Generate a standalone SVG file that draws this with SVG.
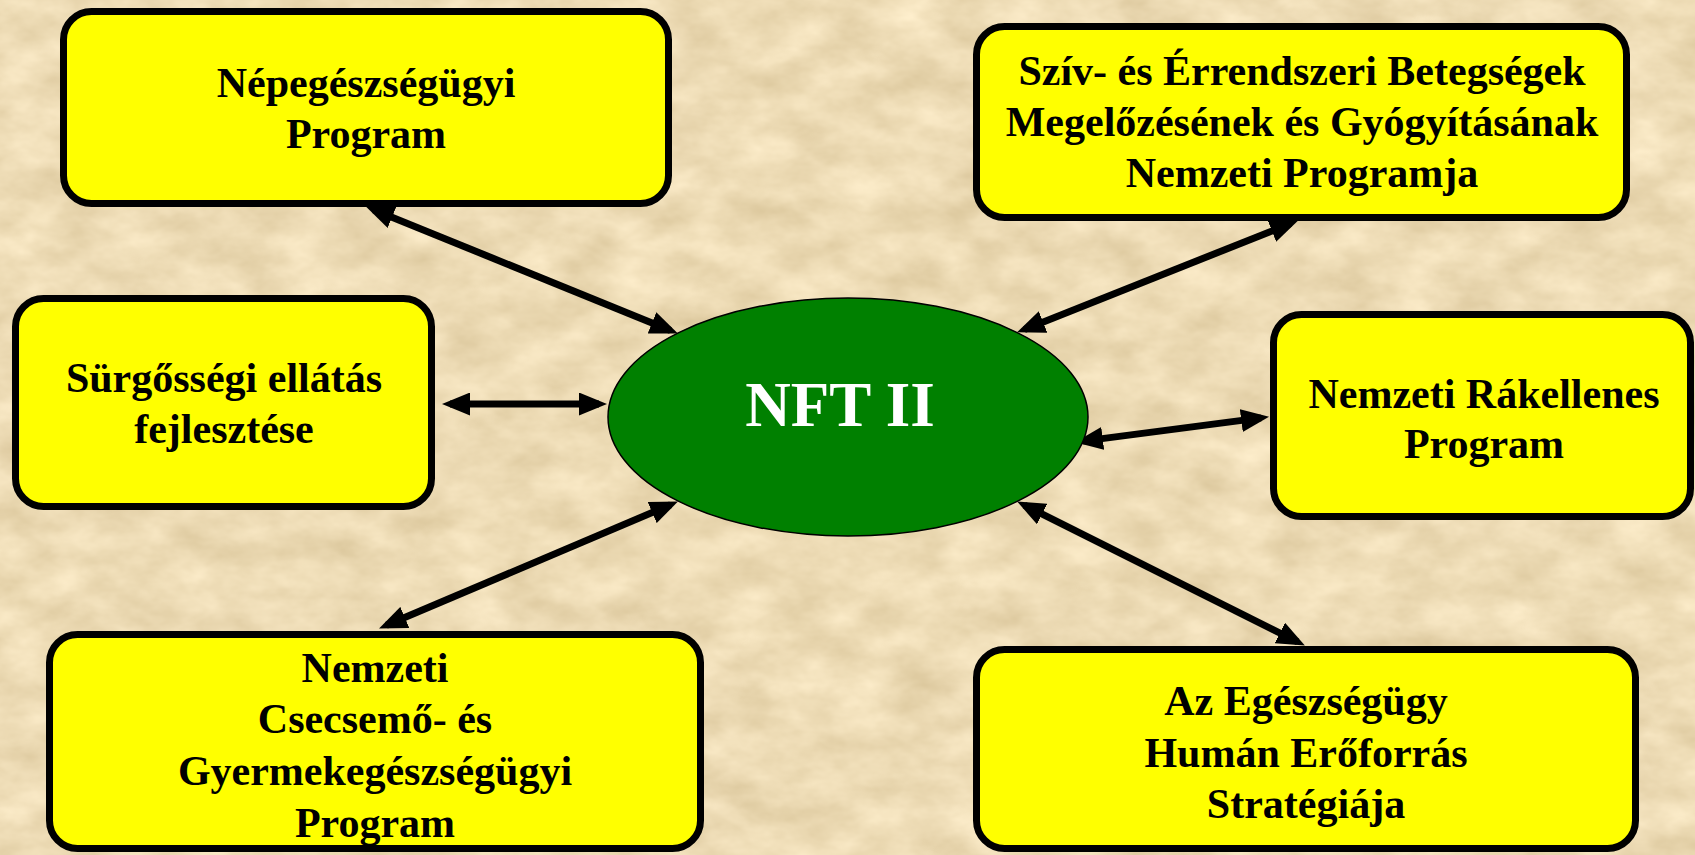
<svg xmlns="http://www.w3.org/2000/svg" width="1695" height="855" viewBox="0 0 1695 855">
  <style>
    .box { fill: #FFFF00; stroke: #000; stroke-width: 7; }
    .lbl { font-family: "Liberation Serif", "Times New Roman", serif; font-weight: bold; font-size: 42px; fill: #000; text-anchor: middle; }
    .center { font-family: "Liberation Serif", "Times New Roman", serif; font-weight: bold; font-size: 63px; fill: #FFF; text-anchor: middle; }
    .conn { stroke: #000; stroke-width: 7; fill: none; marker-start: url(#ah); marker-end: url(#ah); }
  </style>
  <defs>
    <filter id="paper" x="0" y="0" width="100%" height="100%" color-interpolation-filters="sRGB">
      <feTurbulence type="fractalNoise" baseFrequency="0.018 0.03" numOctaves="4" seed="7" result="n"/>
      <feColorMatrix in="n" type="matrix" values="0.16 0 0 0 0.85  0.18 0 0 0 0.77  0.22 0 0 0 0.60  0 0 0 0 1"/>
    </filter>
    <marker id="ah" markerUnits="userSpaceOnUse" markerWidth="28" markerHeight="23" refX="20" refY="11.5" orient="auto-start-reverse" viewBox="0 0 28 23">
      <path d="M0,0 L28,11.5 L0,23 z" fill="#000"/>
    </marker>
  </defs>

  <rect width="1695" height="855" fill="#ECDAB4"/>
  <rect width="1695" height="855" filter="url(#paper)"/>

  <g id="connectors">
    <path class="conn" d="M373.5,209.7 L670.5,330.4"/>
    <path class="conn" d="M1290.5,223.6 L1024.5,329.4"/>
    <path class="conn" d="M450,404 L599,404"/>
    <path class="conn" d="M1082.9,441.1 L1261.1,417.9"/>
    <path class="conn" d="M670.6,504.7 L386.4,625.3"/>
    <path class="conn" d="M1024.3,505.1 L1297.7,641.9"/>
  </g>

  <g id="nft">
    <ellipse cx="848" cy="417" rx="240" ry="119" fill="#008000" stroke="#000" stroke-width="1.5"/>
    <text class="center" x="840" y="426">NFT II</text>
  </g>

  <g id="nepegeszseg">
    <rect class="box" x="63.5" y="11.5" width="605" height="192" rx="28"/>
    <text class="lbl" x="366" y="97">Népegészségügyi</text>
    <text class="lbl" x="366" y="148">Program</text>
  </g>

  <g id="sziv">
    <rect class="box" x="976.5" y="26.5" width="650" height="191" rx="28"/>
    <text class="lbl" x="1302" y="85">Szív- és Érrendszeri Betegségek</text>
    <text class="lbl" x="1302" y="136">Megelőzésének és Gyógyításának</text>
    <text class="lbl" x="1302" y="187">Nemzeti Programja</text>
  </g>

  <g id="surgosseg">
    <rect class="box" x="15.5" y="298.5" width="416" height="208" rx="28"/>
    <text class="lbl" x="224" y="392">Sürgősségi ellátás</text>
    <text class="lbl" x="224" y="443">fejlesztése</text>
  </g>

  <g id="rakellenes">
    <rect class="box" x="1273.5" y="314.5" width="417" height="202" rx="28"/>
    <text class="lbl" x="1484" y="408">Nemzeti Rákellenes</text>
    <text class="lbl" x="1484" y="458">Program</text>
  </g>

  <g id="csecsemo">
    <rect class="box" x="49.5" y="634.5" width="651" height="214" rx="28"/>
    <text class="lbl" x="375" y="682">Nemzeti</text>
    <text class="lbl" x="375" y="733">Csecsemő- és</text>
    <text class="lbl" x="375" y="785">Gyermekegészségügyi</text>
    <text class="lbl" x="375" y="837">Program</text>
  </g>

  <g id="humanero">
    <rect class="box" x="976.5" y="649.5" width="659" height="199" rx="28"/>
    <text class="lbl" x="1306" y="715">Az Egészségügy</text>
    <text class="lbl" x="1306" y="767">Humán Erőforrás</text>
    <text class="lbl" x="1306" y="818">Stratégiája</text>
  </g>
</svg>
